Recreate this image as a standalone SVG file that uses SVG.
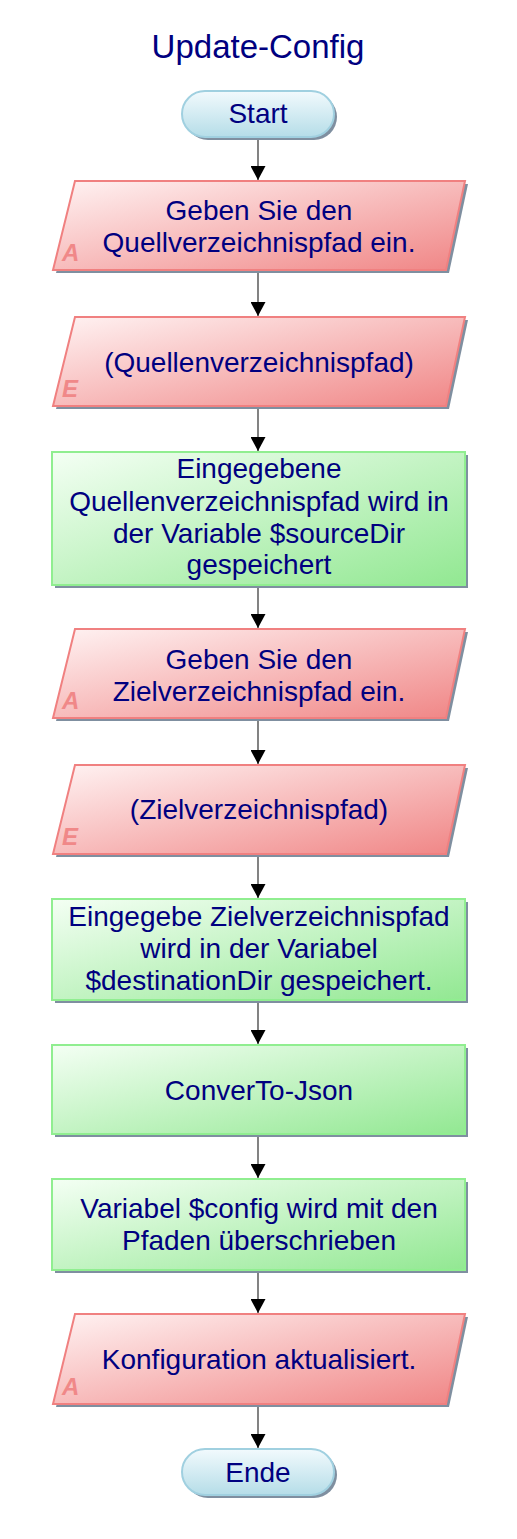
<svg xmlns="http://www.w3.org/2000/svg" width="517" height="1539" viewBox="0 0 517 1539">
<defs>
<linearGradient id="gRed" x1="0" y1="0" x2="1" y2="1"><stop offset="0" stop-color="#fff3f3"/><stop offset="1" stop-color="#f08585"/></linearGradient>
<linearGradient id="gGreen" x1="0" y1="0" x2="1" y2="1"><stop offset="0" stop-color="#f4fff4"/><stop offset="1" stop-color="#92e892"/></linearGradient>
<linearGradient id="gBlue" x1="0" y1="0" x2="0" y2="1"><stop offset="0" stop-color="#f2fafd"/><stop offset="1" stop-color="#b5dde8"/></linearGradient>
<marker id="arr" markerWidth="14" markerHeight="15" refX="14" refY="7.5" orient="auto" markerUnits="userSpaceOnUse" viewBox="0 0 14 15"><path d="M0,0 L14,7.5 L0,15 Z" fill="#000"/></marker>
</defs>
<style>
.t{font-family:"Liberation Sans",Arial,sans-serif;font-size:28px;fill:#000080;text-anchor:middle}
.title{font-size:33px}
.red{fill:url(#gRed);stroke:#f08080;stroke-width:2}
.green{fill:url(#gGreen);stroke:#90ee90;stroke-width:2}
.blue{fill:url(#gBlue);stroke:#a0d0e0;stroke-width:2}
.sh{fill:#7f8fa0}
.lbl{font-family:"Liberation Sans",Arial,sans-serif;font-size:24px;font-weight:bold;font-style:italic;fill:#f08888}
.c{stroke:#404040;stroke-width:1.3;fill:none;marker-end:url(#arr)}
</style>
<rect width="517" height="1539" fill="#fff"/>
<text class="t title" x="258" y="58">Update-Config</text>

<g id="connectors">
<line class="c" x1="258" y1="137" x2="258" y2="180"/>
<line class="c" x1="258" y1="270" x2="258" y2="316"/>
<line class="c" x1="258" y1="406" x2="258" y2="451"/>
<line class="c" x1="258" y1="585" x2="258" y2="628"/>
<line class="c" x1="258" y1="718" x2="258" y2="764"/>
<line class="c" x1="258" y1="854" x2="258" y2="898"/>
<line class="c" x1="258" y1="1000" x2="258" y2="1044"/>
<line class="c" x1="258" y1="1134" x2="258" y2="1178"/>
<line class="c" x1="258" y1="1270" x2="258" y2="1313"/>
<line class="c" x1="258" y1="1404" x2="258" y2="1448"/>
</g>

<g id="start">
<rect class="sh" x="185" y="94" width="152" height="46" rx="23"/>
<rect class="blue" x="182" y="91" width="152" height="46" rx="23"/>
<text class="t" x="258" y="123">Start</text>
</g>

<g id="n1">
<polygon class="sh" points="78,184 468,184 449,273 56,273"/>
<polygon class="red" points="75,181 465,181 446,270 53,270"/>
<text class="lbl" x="62" y="261">A</text>
<text class="t" x="259" y="220">Geben Sie den</text>
<text class="t" x="259" y="252">Quellverzeichnispfad ein.</text>
</g>

<g id="n2">
<polygon class="sh" points="78,320 468,320 449,409 56,409"/>
<polygon class="red" points="75,317 465,317 446,406 53,406"/>
<text class="lbl" x="62" y="397">E</text>
<text class="t" x="259" y="372">(Quellenverzeichnispfad)</text>
</g>

<g id="n3">
<rect class="sh" x="55" y="455" width="413" height="133"/>
<rect class="green" x="52" y="452" width="413" height="133"/>
<text class="t" x="259" y="478">Eingegebene</text>
<text class="t" x="259" y="511">Quellenverzeichnispfad wird in</text>
<text class="t" x="259" y="543">der Variable $sourceDir</text>
<text class="t" x="259" y="574">gespeichert</text>
</g>

<g id="n4">
<polygon class="sh" points="78,632 468,632 449,721 56,721"/>
<polygon class="red" points="75,629 465,629 446,718 53,718"/>
<text class="lbl" x="62" y="709">A</text>
<text class="t" x="259" y="669">Geben Sie den</text>
<text class="t" x="259" y="701">Zielverzeichnispfad ein.</text>
</g>

<g id="n5">
<polygon class="sh" points="78,768 468,768 449,857 56,857"/>
<polygon class="red" points="75,765 465,765 446,854 53,854"/>
<text class="lbl" x="62" y="845">E</text>
<text class="t" x="259" y="819">(Zielverzeichnispfad)</text>
</g>

<g id="n6">
<rect class="sh" x="55" y="902" width="413" height="101"/>
<rect class="green" x="52" y="899" width="413" height="101"/>
<text class="t" x="259" y="926">Eingegebe Zielverzeichnispfad</text>
<text class="t" x="259" y="958">wird in der Variabel</text>
<text class="t" x="259" y="990">$destinationDir gespeichert.</text>
</g>

<g id="n7">
<rect class="sh" x="55" y="1048" width="413" height="89"/>
<rect class="green" x="52" y="1045" width="413" height="89"/>
<text class="t" x="259" y="1100">ConverTo-Json</text>
</g>

<g id="n8">
<rect class="sh" x="55" y="1182" width="413" height="91"/>
<rect class="green" x="52" y="1179" width="413" height="91"/>
<text class="t" x="259" y="1218">Variabel $config wird mit den</text>
<text class="t" x="259" y="1250">Pfaden überschrieben</text>
</g>

<g id="n9">
<polygon class="sh" points="78,1317 468,1317 449,1407 56,1407"/>
<polygon class="red" points="75,1314 465,1314 446,1404 53,1404"/>
<text class="lbl" x="62" y="1395">A</text>
<text class="t" x="259" y="1369">Konfiguration aktualisiert.</text>
</g>

<g id="end">
<rect class="sh" x="185" y="1452" width="152" height="46" rx="23"/>
<rect class="blue" x="182" y="1449" width="152" height="46" rx="23"/>
<text class="t" x="258" y="1482">Ende</text>
</g>
</svg>
